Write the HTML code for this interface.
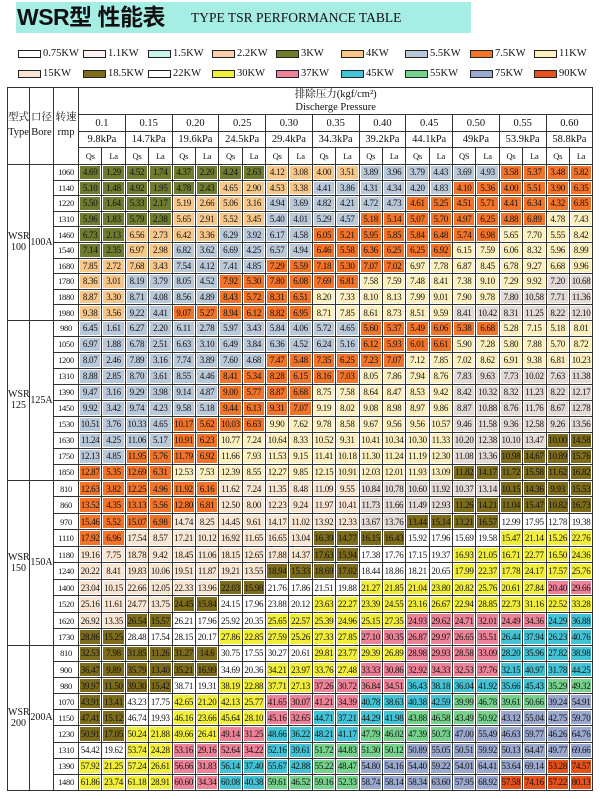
<!DOCTYPE html>
<html><head><meta charset="utf-8">
<style>
body{margin:0;width:600px;height:799px;background:#fff;position:relative;overflow:hidden;font-family:"Liberation Serif","Noto Serif CJK SC",serif;color:#111}
.band{position:absolute;left:16px;top:2px;width:455px;height:31px;background:#a6ede4}
.t1{position:absolute;left:17px;top:3px;font:bold 23px "Liberation Sans","Noto Sans CJK SC",sans-serif;line-height:28px;letter-spacing:-0.5px}
.t2{position:absolute;left:191px;top:9px;font-size:13.5px;line-height:18px}
.lg{position:absolute;font-size:10.5px;line-height:12px}
.lg i{position:absolute;left:0;top:2px;width:21px;height:6px;border:1px solid #222}
.lg span{position:absolute;left:25px;top:0;white-space:nowrap}
table{position:absolute;left:7px;top:87px;border-collapse:collapse;table-layout:fixed;width:586px}
td{border:1px solid #333;padding:0;text-align:center;font-size:9px;white-space:nowrap;overflow:hidden;letter-spacing:-0.3px;box-shadow:inset 0 0 0 1px #fff}
td.h{font-size:10.5px;letter-spacing:0;box-shadow:none}
td.r{font-size:8.5px;box-shadow:none}
td.g{font-size:10px;box-shadow:none;letter-spacing:0}
.a td{height:14.6px}.b td{height:15px}.c td{height:15.5px}.d td{height:15.1px}
.G{background:#6e7c2f}.P{background:#f8c78a}.B{background:#bac9da}.O{background:#f2742a}.Y{background:#fdf0bf}.S{background:#e4dad6}.E{background:#f9e6d2}.D{background:#7d6c1b}.W{background:#fff}.L{background:#f2ee3c}.K{background:#ee8298}.C{background:#44c3d6}.N{background:#76d28c}.V{background:#9ba9cf}.R{background:#e6521c}
</style></head><body>
<div class="band"></div>
<div class="t1">WSR型 性能表</div>
<div class="t2">TYPE TSR PERFORMANCE TABLE</div>

<div class="lg" style="left:18px;top:48px"><i class="W"></i><span>0.75KW</span></div>
<div class="lg" style="left:83px;top:48px"><i style="background:#fdf0f0"></i><span>1.1KW</span></div>
<div class="lg" style="left:148px;top:48px"><i style="background:#c8f3ea"></i><span>1.5KW</span></div>
<div class="lg" style="left:212px;top:48px"><i style="background:#f9cfae"></i><span>2.2KW</span></div>
<div class="lg" style="left:276px;top:48px"><i class="G"></i><span>3KW</span></div>
<div class="lg" style="left:341px;top:48px"><i class="P"></i><span>4KW</span></div>
<div class="lg" style="left:405px;top:48px"><i class="B"></i><span>5.5KW</span></div>
<div class="lg" style="left:470px;top:48px"><i class="O"></i><span>7.5KW</span></div>
<div class="lg" style="left:534px;top:48px"><i class="Y"></i><span>11KW</span></div>
<div class="lg" style="left:18px;top:68px"><i class="E"></i><span>15KW</span></div>
<div class="lg" style="left:83px;top:68px"><i class="D"></i><span>18.5KW</span></div>
<div class="lg" style="left:148px;top:68px"><i class="W"></i><span>22KW</span></div>
<div class="lg" style="left:212px;top:68px"><i class="L"></i><span>30KW</span></div>
<div class="lg" style="left:276px;top:68px"><i class="K"></i><span>37KW</span></div>
<div class="lg" style="left:341px;top:68px"><i class="C"></i><span>45KW</span></div>
<div class="lg" style="left:405px;top:68px"><i class="N"></i><span>55KW</span></div>
<div class="lg" style="left:470px;top:68px"><i class="V"></i><span>75KW</span></div>
<div class="lg" style="left:534px;top:68px"><i class="R"></i><span>90KW</span></div>

<table>
<colgroup><col style="width:22px"><col style="width:24px"><col style="width:25px">
<col span="22" style="width:23.39px"></colgroup>
<tr style="height:26px"><td class="h" rowspan="4" style="vertical-align:top;padding-top:22px;line-height:15px">型式<br>Type</td><td class="h" rowspan="4" style="vertical-align:top;padding-top:22px;line-height:15px">口径<br>Bore</td><td class="h" rowspan="4" style="vertical-align:top;padding-top:22px;line-height:15px">转速<br>rmp</td><td class="h" colspan="22" style="line-height:13px">排除压力(kgf/cm²)<br>Discherge Pressure</td></tr>
<tr style="height:17px"><td class="h" colspan="2">0.1</td><td class="h" colspan="2">0.15</td><td class="h" colspan="2">0.20</td><td class="h" colspan="2">0.25</td><td class="h" colspan="2">0.30</td><td class="h" colspan="2">0.35</td><td class="h" colspan="2">0.40</td><td class="h" colspan="2">0.45</td><td class="h" colspan="2">0.50</td><td class="h" colspan="2">0.55</td><td class="h" colspan="2">0.60</td></tr>
<tr style="height:16px"><td class="h" colspan="2">9.8kPa</td><td class="h" colspan="2">14.7kPa</td><td class="h" colspan="2">19.6kPa</td><td class="h" colspan="2">24.5kPa</td><td class="h" colspan="2">29.4kPa</td><td class="h" colspan="2">34.3kPa</td><td class="h" colspan="2">39.2kPa</td><td class="h" colspan="2">44.1kPa</td><td class="h" colspan="2">49kPa</td><td class="h" colspan="2">53.9kPa</td><td class="h" colspan="2">58.8kPa</td></tr>
<tr style="height:17px"><td class="r">Qs</td><td class="r">La</td><td class="r">Qs</td><td class="r">La</td><td class="r">Qs</td><td class="r">La</td><td class="r">Qs</td><td class="r">La</td><td class="r">Qs</td><td class="r">La</td><td class="r">Qs</td><td class="r">La</td><td class="r">Qs</td><td class="r">La</td><td class="r">Qs</td><td class="r">La</td><td class="r">QS</td><td class="r">La</td><td class="r">Qs</td><td class="r">La</td><td class="r">Qs</td><td class="r">La</td></tr>

<tr class="a"><td class="g" rowspan="10">WSR<br>100</td><td class="g" rowspan="10">100A</td><td class="r">1060</td><td class=G>4.69</td><td class=G>1.29</td><td class=G>4.52</td><td class=G>1.74</td><td class=G>4.37</td><td class=G>2.20</td><td class=G>4.24</td><td class=G>2.63</td><td class=P>4.12</td><td class=P>3.08</td><td class=P>4.00</td><td class=P>3.51</td><td class=B>3.89</td><td class=B>3.96</td><td class=B>3.79</td><td class=B>4.43</td><td class=B>3.69</td><td class=B>4.93</td><td class=O>3.58</td><td class=O>5.37</td><td class=O>3.48</td><td class=O>5.82</td></tr>
<tr class="a"><td class="r">1140</td><td class=G>5.10</td><td class=G>1.48</td><td class=G>4.92</td><td class=G>1.95</td><td class=G>4.78</td><td class=G>2.43</td><td class=P>4.65</td><td class=P>2.90</td><td class=P>4.53</td><td class=P>3.38</td><td class=B>4.41</td><td class=B>3.86</td><td class=B>4.31</td><td class=B>4.34</td><td class=B>4.20</td><td class=B>4.83</td><td class=O>4.10</td><td class=O>5.36</td><td class=O>4.00</td><td class=O>5.51</td><td class=O>3.90</td><td class=O>6.35</td></tr>
<tr class="a"><td class="r">1220</td><td class=G>5.50</td><td class=G>1.64</td><td class=G>5.33</td><td class=G>2.17</td><td class=P>5.19</td><td class=P>2.66</td><td class=P>5.06</td><td class=P>3.16</td><td class=B>4.94</td><td class=B>3.69</td><td class=B>4.82</td><td class=B>4.21</td><td class=B>4.72</td><td class=B>4.73</td><td class=O>4.61</td><td class=O>5.25</td><td class=O>4.51</td><td class=O>5.71</td><td class=O>4.41</td><td class=O>6.34</td><td class=O>4.32</td><td class=O>6.85</td></tr>
<tr class="a"><td class="r">1310</td><td class=G>5.96</td><td class=G>1.83</td><td class=G>5.79</td><td class=G>2.38</td><td class=P>5.65</td><td class=P>2.91</td><td class=P>5.52</td><td class=P>3.45</td><td class=B>5.40</td><td class=B>4.01</td><td class=B>5.29</td><td class=B>4.57</td><td class=O>5.18</td><td class=O>5.14</td><td class=O>5.07</td><td class=O>5.70</td><td class=O>4.97</td><td class=O>6.25</td><td class=O>4.88</td><td class=O>6.89</td><td class=Y>4.78</td><td class=Y>7.43</td></tr>
<tr class="a"><td class="r">1460</td><td class=G>6.73</td><td class=G>2.13</td><td class=P>6.56</td><td class=P>2.73</td><td class=P>6.42</td><td class=P>3.36</td><td class=B>6.29</td><td class=B>3.92</td><td class=B>6.17</td><td class=B>4.58</td><td class=O>6.05</td><td class=O>5.21</td><td class=O>5.95</td><td class=O>5.85</td><td class=O>5.84</td><td class=O>6.48</td><td class=O>5.74</td><td class=O>6.98</td><td class=Y>5.65</td><td class=Y>7.70</td><td class=Y>5.55</td><td class=Y>8.42</td></tr>
<tr class="a"><td class="r">1540</td><td class=G>7.14</td><td class=G>2.35</td><td class=P>6.97</td><td class=P>2.98</td><td class=B>6.82</td><td class=B>3.62</td><td class=B>6.69</td><td class=B>4.25</td><td class=B>6.57</td><td class=B>4.94</td><td class=O>6.46</td><td class=O>5.58</td><td class=O>6.36</td><td class=O>6.25</td><td class=O>6.25</td><td class=O>6.92</td><td class=Y>6.15</td><td class=Y>7.59</td><td class=Y>6.06</td><td class=Y>8.32</td><td class=Y>5.96</td><td class=Y>8.99</td></tr>
<tr class="a"><td class="r">1680</td><td class=P>7.85</td><td class=P>2.72</td><td class=P>7.68</td><td class=P>3.43</td><td class=B>7.54</td><td class=B>4.12</td><td class=B>7.41</td><td class=B>4.85</td><td class=O>7.29</td><td class=O>5.59</td><td class=O>7.18</td><td class=O>5.30</td><td class=O>7.07</td><td class=O>7.02</td><td class=Y>6.97</td><td class=Y>7.78</td><td class=Y>6.87</td><td class=Y>8.45</td><td class=Y>6.78</td><td class=Y>9.27</td><td class=Y>6.68</td><td class=Y>9.96</td></tr>
<tr class="a"><td class="r">1780</td><td class=P>8.36</td><td class=P>3.01</td><td class=B>8.19</td><td class=B>3.79</td><td class=B>8.05</td><td class=B>4.52</td><td class=O>7.92</td><td class=O>5.30</td><td class=O>7.80</td><td class=O>6.08</td><td class=O>7.69</td><td class=O>6.81</td><td class=Y>7.58</td><td class=Y>7.59</td><td class=Y>7.48</td><td class=Y>8.41</td><td class=Y>7.38</td><td class=Y>9.10</td><td class=Y>7.29</td><td class=Y>9.92</td><td class=S>7.20</td><td class=S>10.68</td></tr>
<tr class="a"><td class="r">1880</td><td class=P>8.87</td><td class=P>3.30</td><td class=B>8.71</td><td class=B>4.08</td><td class=B>8.56</td><td class=B>4.89</td><td class=O>8.43</td><td class=O>5.72</td><td class=O>8.31</td><td class=O>6.51</td><td class=Y>8.20</td><td class=Y>7.33</td><td class=Y>8.10</td><td class=Y>8.13</td><td class=Y>7.99</td><td class=Y>9.01</td><td class=Y>7.90</td><td class=Y>9.78</td><td class=S>7.80</td><td class=S>10.58</td><td class=S>7.71</td><td class=S>11.36</td></tr>
<tr class="a"><td class="r">1980</td><td class=P>9.38</td><td class=P>3.56</td><td class=B>9.22</td><td class=B>4.41</td><td class=O>9.07</td><td class=O>5.27</td><td class=O>8.94</td><td class=O>6.12</td><td class=O>8.82</td><td class=O>6.95</td><td class=Y>8.71</td><td class=Y>7.85</td><td class=Y>8.61</td><td class=Y>8.73</td><td class=Y>8.51</td><td class=Y>9.59</td><td class=S>8.41</td><td class=S>10.42</td><td class=S>8.31</td><td class=S>11.25</td><td class=S>8.22</td><td class=S>12.10</td></tr>

<tr class="b"><td class="g" rowspan="10">WSR<br>125</td><td class="g" rowspan="10">125A</td><td class="r">980</td><td class=B>6.45</td><td class=B>1.61</td><td class=B>6.27</td><td class=B>2.20</td><td class=B>6.11</td><td class=B>2.78</td><td class=B>5.97</td><td class=B>3.43</td><td class=B>5.84</td><td class=B>4.06</td><td class=B>5.72</td><td class=B>4.65</td><td class=O>5.60</td><td class=O>5.37</td><td class=O>5.49</td><td class=O>6.06</td><td class=O>5.38</td><td class=O>6.68</td><td class=Y>5.28</td><td class=Y>7.15</td><td class=Y>5.18</td><td class=Y>8.01</td></tr>
<tr class="b"><td class="r">1050</td><td class=B>6.97</td><td class=B>1.88</td><td class=B>6.78</td><td class=B>2.51</td><td class=B>6.63</td><td class=B>3.10</td><td class=B>6.49</td><td class=B>3.84</td><td class=B>6.36</td><td class=B>4.52</td><td class=B>6.24</td><td class=B>5.16</td><td class=O>6.12</td><td class=O>5.93</td><td class=O>6.01</td><td class=O>6.61</td><td class=Y>5.90</td><td class=Y>7.28</td><td class=Y>5.80</td><td class=Y>7.88</td><td class=Y>5.70</td><td class=Y>8.72</td></tr>
<tr class="b"><td class="r">1200</td><td class=B>8.07</td><td class=B>2.46</td><td class=B>7.89</td><td class=B>3.16</td><td class=B>7.74</td><td class=B>3.89</td><td class=B>7.60</td><td class=B>4.68</td><td class=O>7.47</td><td class=O>5.48</td><td class=O>7.35</td><td class=O>6.25</td><td class=O>7.23</td><td class=O>7.07</td><td class=Y>7.12</td><td class=Y>7.85</td><td class=Y>7.02</td><td class=Y>8.62</td><td class=Y>6.91</td><td class=Y>9.38</td><td class=Y>6.81</td><td class=Y>10.23</td></tr>
<tr class="b"><td class="r">1310</td><td class=B>8.88</td><td class=B>2.85</td><td class=B>8.70</td><td class=B>3.61</td><td class=B>8.55</td><td class=B>4.46</td><td class=O>8.41</td><td class=O>5.34</td><td class=O>8.28</td><td class=O>6.15</td><td class=O>8.16</td><td class=O>7.03</td><td class=Y>8.05</td><td class=Y>7.86</td><td class=Y>7.94</td><td class=Y>8.76</td><td class=S>7.83</td><td class=S>9.63</td><td class=S>7.73</td><td class=S>10.02</td><td class=S>7.63</td><td class=S>11.38</td></tr>
<tr class="b"><td class="r">1390</td><td class=B>9.47</td><td class=B>3.16</td><td class=B>9.29</td><td class=B>3.98</td><td class=B>9.14</td><td class=B>4.87</td><td class=O>9.00</td><td class=O>5.77</td><td class=O>8.87</td><td class=O>6.68</td><td class=Y>8.75</td><td class=Y>7.58</td><td class=Y>8.64</td><td class=Y>8.47</td><td class=Y>8.53</td><td class=Y>9.42</td><td class=S>8.42</td><td class=S>10.32</td><td class=S>8.32</td><td class=S>11.23</td><td class=S>8.22</td><td class=S>12.17</td></tr>
<tr class="b"><td class="r">1450</td><td class=B>9.92</td><td class=B>3.42</td><td class=B>9.74</td><td class=B>4.23</td><td class=B>9.58</td><td class=B>5.18</td><td class=O>9.44</td><td class=O>6.13</td><td class=O>9.31</td><td class=O>7.07</td><td class=Y>9.19</td><td class=Y>8.02</td><td class=Y>9.08</td><td class=Y>8.98</td><td class=Y>8.97</td><td class=Y>9.86</td><td class=S>8.87</td><td class=S>10.88</td><td class=S>8.76</td><td class=S>11.76</td><td class=S>8.67</td><td class=S>12.78</td></tr>
<tr class="b"><td class="r">1530</td><td class=B>10.51</td><td class=B>3.76</td><td class=B>10.33</td><td class=B>4.65</td><td class=O>10.17</td><td class=O>5.62</td><td class=O>10.03</td><td class=O>6.63</td><td class=Y>9.90</td><td class=Y>7.62</td><td class=Y>9.78</td><td class=Y>8.58</td><td class=Y>9.67</td><td class=Y>9.56</td><td class=Y>9.56</td><td class=Y>10.57</td><td class=S>9.46</td><td class=S>11.58</td><td class=S>9.36</td><td class=S>12.58</td><td class=S>9.26</td><td class=S>13.56</td></tr>
<tr class="b"><td class="r">1630</td><td class=B>11.24</td><td class=B>4.25</td><td class=B>11.06</td><td class=B>5.17</td><td class=O>10.91</td><td class=O>6.23</td><td class=Y>10.77</td><td class=Y>7.24</td><td class=Y>10.64</td><td class=Y>8.33</td><td class=Y>10.52</td><td class=Y>9.31</td><td class=Y>10.41</td><td class=Y>10.34</td><td class=Y>10.30</td><td class=Y>11.33</td><td class=S>10.20</td><td class=S>12.38</td><td class=S>10.10</td><td class=S>13.47</td><td class=D>10.00</td><td class=D>14.58</td></tr>
<tr class="b"><td class="r">1750</td><td class=B>12.13</td><td class=B>4.85</td><td class=O>11.95</td><td class=O>5.76</td><td class=O>11.79</td><td class=O>6.92</td><td class=Y>11.66</td><td class=Y>7.93</td><td class=Y>11.53</td><td class=Y>9.15</td><td class=Y>11.41</td><td class=Y>10.18</td><td class=Y>11.30</td><td class=Y>11.24</td><td class=Y>11.19</td><td class=Y>12.30</td><td class=S>11.08</td><td class=S>13.36</td><td class=D>10.98</td><td class=D>14.67</td><td class=D>10.89</td><td class=D>15.76</td></tr>
<tr class="b"><td class="r">1850</td><td class=O>12.87</td><td class=O>5.35</td><td class=O>12.69</td><td class=O>6.31</td><td class=Y>12.53</td><td class=Y>7.53</td><td class=Y>12.39</td><td class=Y>8.55</td><td class=Y>12.27</td><td class=Y>9.85</td><td class=Y>12.15</td><td class=Y>10.91</td><td class=Y>12.03</td><td class=Y>12.01</td><td class=Y>11.93</td><td class=Y>13.09</td><td class=D>11.82</td><td class=D>14.17</td><td class=D>11.72</td><td class=D>15.58</td><td class=D>11.62</td><td class=D>16.82</td></tr>

<tr class="c"><td class="g" rowspan="10">WSR<br>150</td><td class="g" rowspan="10">150A</td><td class="r">810</td><td class=O>12.63</td><td class=O>3.82</td><td class=O>12.25</td><td class=O>4.96</td><td class=O>11.92</td><td class=O>6.16</td><td class=E>11.62</td><td class=E>7.24</td><td class=E>11.35</td><td class=E>8.48</td><td class=E>11.09</td><td class=E>9.55</td><td class=S>10.84</td><td class=S>10.78</td><td class=S>10.60</td><td class=S>11.92</td><td class=S>10.37</td><td class=S>13.14</td><td class=D>10.15</td><td class=D>14.36</td><td class=D>9.93</td><td class=D>15.53</td></tr>
<tr class="c"><td class="r">860</td><td class=O>13.52</td><td class=O>4.35</td><td class=O>13.13</td><td class=O>5.56</td><td class=O>12.80</td><td class=O>6.81</td><td class=E>12.50</td><td class=E>8.00</td><td class=E>12.23</td><td class=E>9.24</td><td class=E>11.97</td><td class=E>10.41</td><td class=S>11.73</td><td class=S>11.66</td><td class=S>11.49</td><td class=S>12.93</td><td class=D>11.26</td><td class=D>14.21</td><td class=D>11.04</td><td class=D>15.47</td><td class=D>10.82</td><td class=D>16.73</td></tr>
<tr class="c"><td class="r">970</td><td class=O>15.46</td><td class=O>5.52</td><td class=O>15.07</td><td class=O>6.98</td><td class=E>14.74</td><td class=E>8.25</td><td class=E>14.45</td><td class=E>9.61</td><td class=E>14.17</td><td class=E>11.02</td><td class=E>13.92</td><td class=E>12.33</td><td class=S>13.67</td><td class=S>13.76</td><td class=D>13.44</td><td class=D>15.14</td><td class=D>13.21</td><td class=D>16.57</td><td class=W>12.99</td><td class=W>17.95</td><td class=W>12.78</td><td class=W>19.38</td></tr>
<tr class="c"><td class="r">1110</td><td class=O>17.92</td><td class=O>6.96</td><td class=E>17.54</td><td class=E>8.57</td><td class=E>17.21</td><td class=E>10.12</td><td class=E>16.92</td><td class=E>11.65</td><td class=E>16.65</td><td class=E>13.04</td><td class=D>16.39</td><td class=D>14.77</td><td class=D>16.15</td><td class=D>16.43</td><td class=W>15.92</td><td class=W>17.96</td><td class=W>15.69</td><td class=W>19.58</td><td class=L>15.47</td><td class=L>21.14</td><td class=L>15.26</td><td class=L>22.76</td></tr>
<tr class="c"><td class="r">1180</td><td class=E>19.16</td><td class=E>7.75</td><td class=E>18.78</td><td class=E>9.42</td><td class=E>18.45</td><td class=E>11.06</td><td class=E>18.15</td><td class=E>12.65</td><td class=E>17.88</td><td class=E>14.37</td><td class=D>17.63</td><td class=D>15.94</td><td class=W>17.38</td><td class=W>17.76</td><td class=W>17.15</td><td class=W>19.37</td><td class=L>16.93</td><td class=L>21.05</td><td class=L>16.71</td><td class=L>22.77</td><td class=L>16.50</td><td class=L>24.36</td></tr>
<tr class="c"><td class="r">1240</td><td class=E>20.22</td><td class=E>8.41</td><td class=E>19.83</td><td class=E>10.06</td><td class=E>19.51</td><td class=E>11.87</td><td class=E>19.21</td><td class=E>13.55</td><td class=D>18.94</td><td class=D>15.33</td><td class=D>18.69</td><td class=D>17.02</td><td class=W>18.44</td><td class=W>18.86</td><td class=W>18.21</td><td class=W>20.65</td><td class=L>17.99</td><td class=L>22.37</td><td class=L>17.78</td><td class=L>24.17</td><td class=L>17.57</td><td class=L>25.76</td></tr>
<tr class="c"><td class="r">1400</td><td class=E>23.04</td><td class=E>10.15</td><td class=E>22.66</td><td class=E>12.05</td><td class=E>22.33</td><td class=E>13.96</td><td class=D>22.03</td><td class=D>15.98</td><td class=W>21.76</td><td class=W>17.86</td><td class=W>21.51</td><td class=W>19.88</td><td class=L>21.27</td><td class=L>21.85</td><td class=L>21.04</td><td class=L>23.80</td><td class=L>20.82</td><td class=L>25.76</td><td class=L>20.61</td><td class=L>27.84</td><td class=K>20.40</td><td class=K>29.66</td></tr>
<tr class="c"><td class="r">1520</td><td class=E>25.16</td><td class=E>11.61</td><td class=E>24.77</td><td class=E>13.75</td><td class=D>24.45</td><td class=D>15.84</td><td class=W>24.15</td><td class=W>17.96</td><td class=W>23.88</td><td class=W>20.12</td><td class=L>23.63</td><td class=L>22.27</td><td class=L>23.39</td><td class=L>24.55</td><td class=L>23.16</td><td class=L>26.67</td><td class=L>22.94</td><td class=L>28.85</td><td class=L>22.73</td><td class=L>31.16</td><td class=L>22.52</td><td class=L>33.28</td></tr>
<tr class="c"><td class="r">1620</td><td class=E>26.92</td><td class=E>13.35</td><td class=D>26.54</td><td class=D>15.57</td><td class=W>26.21</td><td class=W>17.96</td><td class=W>25.92</td><td class=W>20.35</td><td class=L>25.65</td><td class=L>22.57</td><td class=L>25.39</td><td class=L>24.96</td><td class=L>25.15</td><td class=L>27.35</td><td class=K>24.93</td><td class=K>29.62</td><td class=K>24.71</td><td class=K>32.01</td><td class=K>24.49</td><td class=K>34.36</td><td class=C>24.29</td><td class=C>36.88</td></tr>
<tr class="c"><td class="r">1730</td><td class=D>28.86</td><td class=D>15.25</td><td class=W>28.48</td><td class=W>17.54</td><td class=W>28.15</td><td class=W>20.17</td><td class=L>27.86</td><td class=L>22.85</td><td class=L>27.59</td><td class=L>25.26</td><td class=L>27.33</td><td class=L>27.85</td><td class=K>27.10</td><td class=K>30.35</td><td class=K>26.87</td><td class=K>29.97</td><td class=K>26.65</td><td class=K>35.51</td><td class=C>26.44</td><td class=C>37.94</td><td class=C>26.23</td><td class=C>40.76</td></tr>

<tr class="d"><td class="g" rowspan="9">WSR<br>200</td><td class="g" rowspan="9">200A</td><td class="r">810</td><td class=D>32.53</td><td class=D>7.98</td><td class=D>31.85</td><td class=D>11.26</td><td class=D>31.27</td><td class=D>14.6</td><td class=W>30.75</td><td class=W>17.55</td><td class=W>30.27</td><td class=W>20.61</td><td class=L>29.81</td><td class=L>23.77</td><td class=L>29.39</td><td class=L>26.89</td><td class=K>28.98</td><td class=K>29.93</td><td class=K>28.58</td><td class=K>33.09</td><td class=C>28.20</td><td class=C>35.96</td><td class=C>27.82</td><td class=C>38.98</td></tr>
<tr class="d"><td class="r">900</td><td class=D>36.47</td><td class=D>9.89</td><td class=D>35.79</td><td class=D>13.40</td><td class=D>35.21</td><td class=D>16.99</td><td class=W>34.69</td><td class=W>20.36</td><td class=L>34.21</td><td class=L>23.97</td><td class=L>33.76</td><td class=L>27.48</td><td class=K>33.33</td><td class=K>30.86</td><td class=K>32.92</td><td class=K>34.33</td><td class=K>32.53</td><td class=K>37.76</td><td class=C>32.15</td><td class=C>40.97</td><td class=C>31.78</td><td class=C>44.25</td></tr>
<tr class="d"><td class="r">980</td><td class=D>39.97</td><td class=D>11.50</td><td class=D>39.30</td><td class=D>15.42</td><td class=W>38.71</td><td class=W>19.31</td><td class=L>38.19</td><td class=L>22.88</td><td class=L>37.71</td><td class=L>27.13</td><td class=K>37.26</td><td class=K>30.72</td><td class=K>36.84</td><td class=K>34.51</td><td class=C>36.43</td><td class=C>38.18</td><td class=C>36.04</td><td class=C>41.92</td><td class=C>35.66</td><td class=C>45.43</td><td class=N>35.29</td><td class=N>49.32</td></tr>
<tr class="d"><td class="r">1070</td><td class=D>43.91</td><td class=D>13.41</td><td class=W>43.23</td><td class=W>17.75</td><td class=L>42.65</td><td class=L>21.20</td><td class=L>42.13</td><td class=L>25.77</td><td class=K>41.65</td><td class=K>30.07</td><td class=K>41.21</td><td class=K>34.39</td><td class=C>40.78</td><td class=C>38.63</td><td class=C>40.38</td><td class=C>42.59</td><td class=N>39.99</td><td class=N>46.78</td><td class=N>39.61</td><td class=N>50.66</td><td class=V>39.24</td><td class=V>54.91</td></tr>
<tr class="d"><td class="r">1150</td><td class=D>47.41</td><td class=D>15.12</td><td class=W>46.74</td><td class=W>19.93</td><td class=L>46.16</td><td class=L>23.66</td><td class=L>45.64</td><td class=L>28.10</td><td class=K>45.16</td><td class=K>32.65</td><td class=C>44.71</td><td class=C>37.21</td><td class=C>44.29</td><td class=C>41.98</td><td class=N>43.88</td><td class=N>46.58</td><td class=N>43.49</td><td class=N>50.92</td><td class=V>43.12</td><td class=V>55.04</td><td class=V>42.75</td><td class=V>59.70</td></tr>
<tr class="d"><td class="r">1230</td><td class=D>50.91</td><td class=D>17.05</td><td class=L>50.24</td><td class=L>21.88</td><td class=L>49.66</td><td class=L>26.41</td><td class=K>49.14</td><td class=K>31.25</td><td class=C>48.66</td><td class=C>36.22</td><td class=C>48.21</td><td class=C>41.17</td><td class=N>47.79</td><td class=N>46.02</td><td class=N>47.39</td><td class=N>50.73</td><td class=V>47.00</td><td class=V>55.49</td><td class=V>46.63</td><td class=V>59.77</td><td class=V>46.26</td><td class=V>64.76</td></tr>
<tr class="d"><td class="r">1310</td><td class=W>54.42</td><td class=W>19.62</td><td class=L>53.74</td><td class=L>24.28</td><td class=K>53.16</td><td class=K>29.16</td><td class=K>52.64</td><td class=K>34.22</td><td class=C>52.16</td><td class=C>39.61</td><td class=N>51.72</td><td class=N>44.83</td><td class=N>51.30</td><td class=N>50.12</td><td class=V>50.89</td><td class=V>55.05</td><td class=V>50.51</td><td class=V>59.92</td><td class=V>50.13</td><td class=V>64.47</td><td class=V>49.77</td><td class=V>69.66</td></tr>
<tr class="d"><td class="r">1390</td><td class=L>57.92</td><td class=L>21.25</td><td class=L>57.24</td><td class=L>26.61</td><td class=K>56.66</td><td class=K>31.83</td><td class=C>56.14</td><td class=C>37.40</td><td class=C>55.67</td><td class=C>42.88</td><td class=N>55.22</td><td class=N>48.47</td><td class=V>54.80</td><td class=V>54.16</td><td class=V>54.40</td><td class=V>59.22</td><td class=V>54.01</td><td class=V>64.41</td><td class=V>53.64</td><td class=V>69.14</td><td class=R>53.28</td><td class=R>74.57</td></tr>
<tr class="d"><td class="r">1480</td><td class=L>61.86</td><td class=L>23.74</td><td class=L>61.18</td><td class=L>28.91</td><td class=K>60.60</td><td class=K>34.34</td><td class=C>60.08</td><td class=C>40.38</td><td class=N>59.61</td><td class=N>46.52</td><td class=N>59.16</td><td class=N>52.33</td><td class=V>58.74</td><td class=V>58.14</td><td class=V>58.34</td><td class=V>63.60</td><td class=V>57.95</td><td class=V>68.92</td><td class=R>57.58</td><td class=R>74.16</td><td class=R>57.22</td><td class=R>80.13</td></tr>
</table>
</body></html>
